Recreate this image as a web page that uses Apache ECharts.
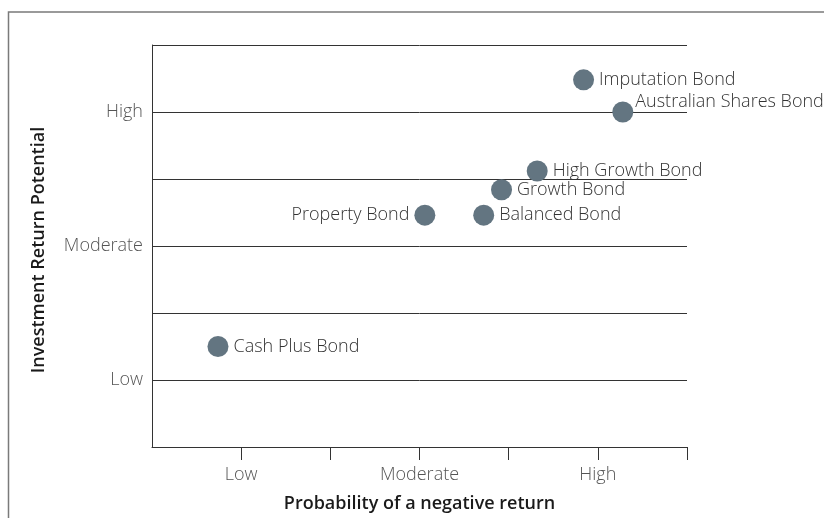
<!DOCTYPE html>
<html>
<head>
<meta charset="utf-8">
<script src="https://cdn.jsdelivr.net/npm/echarts@6/dist/echarts.min.js"></script>
<style>
html,body{margin:0;padding:0;background:#fff;}
#chart{width:824px;height:518px;}
</style>
</head>
<body>
<div id="chart"></div>
<script>
// Data
var bondNames = ["Imputation Bond", "Australian Shares Bond", "High Growth Bond", "Growth Bond", "Property Bond", "Balanced Bond", "Cash Plus Bond"];
var negativeReturnProb = [2.92, 3.14, 2.66, 2.46, 2.03, 2.36, 0.87];
var returnPotential = [3.24, 3.00, 2.56, 2.42, 2.23, 2.23, 1.25];
var levelLabels = ["Low", "Moderate", "High"];
var levelValues = [1, 2, 3];
var xTitle = "Probability of a negative return";
var yTitle = "Investment Return Potential";

// Label placement (style only)
var labelStyle = {
  "Australian Shares Bond": {position: "right", offset: [-3, -10]},
  "Property Bond": {position: "left", offset: [0, 0]}
};

var FONT = "'Open Sans', sans-serif";

var seriesData = bondNames.map(function (n, i) {
  var ls = labelStyle[n] || {position: "right", offset: [0, 0]};
  return {
    name: n,
    value: [negativeReturnProb[i], returnPotential[i]],
    label: {position: ls.position, offset: ls.offset}
  };
});

function levelFormatter(v) {
  var idx = levelValues.indexOf(Math.round(v * 100) / 100);
  return idx >= 0 ? levelLabels[idx] : "";
}

var chart = echarts.init(document.getElementById("chart"), null, {renderer: "canvas"});
chart.setOption({
  backgroundColor: "#ffffff",
  animation: false,
  textStyle: {fontFamily: FONT},
  graphic: [{
    type: "rect",
    shape: {x: 8.5, y: 12, width: 900, height: 600},
    style: {fill: "none", stroke: "#7a7a7a", lineWidth: 1.5},
    silent: true
  }],
  grid: {left: 152, right: 137, top: 45, bottom: 70},
  xAxis: {
    type: "value",
    min: 0.5,
    max: 3.5,
    interval: 0.5,
    name: xTitle,
    nameLocation: "middle",
    nameGap: 48,
    nameTextStyle: {fontFamily: FONT, fontSize: 18, fontWeight: 600, color: "#1a1a1a"},
    axisLine: {show: true, lineStyle: {color: "#333", width: 1}},
    axisTick: {show: true, length: 13, lineStyle: {color: "#333"}, customValues: [1, 1.5, 2, 2.5, 3, 3.5]},
    axisLabel: {show: true, margin: 19, fontFamily: FONT, fontSize: 18, fontWeight: 300, color: "#555", customValues: levelValues, formatter: levelFormatter},
    splitLine: {show: false}
  },
  yAxis: {
    type: "value",
    min: 0.5,
    max: 3.5,
    interval: 0.5,
    name: yTitle,
    nameLocation: "middle",
    nameGap: 104,
    nameRotate: 90,
    nameTextStyle: {fontFamily: FONT, fontSize: 18, fontWeight: 600, color: "#1a1a1a", padding: [0, 8, 0, 0]},
    axisLine: {show: true, lineStyle: {color: "#333", width: 1}},
    axisTick: {show: false},
    axisLabel: {show: true, margin: 9, fontFamily: FONT, fontSize: 18, fontWeight: 300, color: "#555", customValues: levelValues, formatter: levelFormatter},
    splitLine: {show: true, lineStyle: {color: "#333", width: 1}}
  },
  series: [{
    type: "scatter",
    symbol: "circle",
    symbolSize: 21,
    itemStyle: {color: "#637581", opacity: 1},
    label: {
      show: true,
      formatter: "{b}",
      distance: 5,
      fontFamily: FONT,
      fontSize: 18,
      fontWeight: 300,
      color: "#333"
    },
    data: seriesData
  }]
});
</script>
</body>
</html>
